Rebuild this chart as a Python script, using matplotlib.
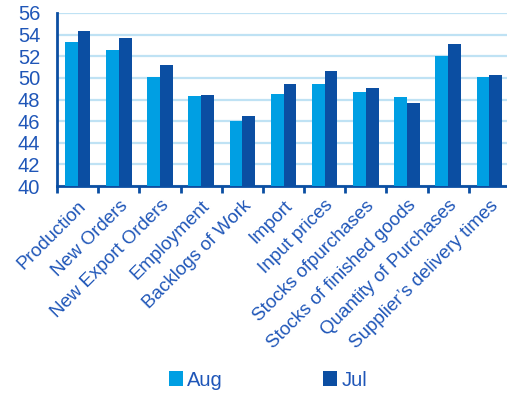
import numpy as np
import matplotlib.pyplot as plt

# datos
categories = ['Production', 'New Orders', 'New Export Orders', 'Employment',
              'Backlogs of Work', 'Import', 'Input prices', 'Stocks ofpurchases',
              'Stocks of finished goods', 'Quantity of Purchases',
              'Supplier\u2019s delivery times']
aug = [53.3, 52.6, 50.1, 48.3, 46.0, 48.5, 49.4, 48.7, 48.2, 52.0, 50.1]
jul = [54.3, 53.7, 51.2, 48.4, 46.5, 49.4, 50.6, 49.1, 47.7, 53.1, 50.3]
yticks = list(range(40, 57, 2))

plt.rcParams['font.family'] = ['Liberation Sans', 'DejaVu Sans']
txt = '#1F56B8'
c_aug = '#009FE3'
c_jul = '#0B4EA2'

fig = plt.figure(figsize=(5.07, 3.97), dpi=100)
ax = fig.add_axes([57/507, 211/397, 453/507, 173/397])

x = np.arange(len(categories))
w = 0.31
ax.bar(x - w/2, [v - 40 for v in aug], w, bottom=40, color=c_aug, label='Aug', zorder=3)
ax.bar(x + w/2, [v - 40 for v in jul], w, bottom=40, color=c_jul, label='Jul', zorder=3)

ax.set_ylim(40, 56)
ax.set_xlim(-0.5, len(categories) - 0.5)
ax.set_yticks(yticks)
ax.grid(axis='y', color='#BFE2F4', linewidth=1.6, zorder=0)

# ticks de las categorias
ax.set_xticks(x)
ax.set_xticklabels(categories, rotation=45, ha='right', rotation_mode='anchor',
                   fontsize=13.5, color=txt)
ax.set_xticks(np.arange(-0.5, len(categories), 1), minor=True)
ax.tick_params(axis='x', which='major', length=0, pad=8)
ax.tick_params(axis='x', which='minor', length=5, width=2, color=c_jul, direction='out')
ax.tick_params(axis='y', length=0, labelsize=14.5, labelcolor=txt, pad=12)

for s in ['top', 'right']:
    ax.spines[s].set_visible(False)
for s in ['left', 'bottom']:
    ax.spines[s].set_color(c_jul)
    ax.spines[s].set_linewidth(2)

leg = fig.legend(loc='center', bbox_to_anchor=(268/507, 1 - 380/397), ncol=2,
                 frameon=False, fontsize=14.5, handlelength=0.7, handleheight=0.7,
                 handletextpad=0.2, columnspacing=5)
for t in leg.get_texts():
    t.set_color(txt)

fig.savefig('out.png', dpi=100)
